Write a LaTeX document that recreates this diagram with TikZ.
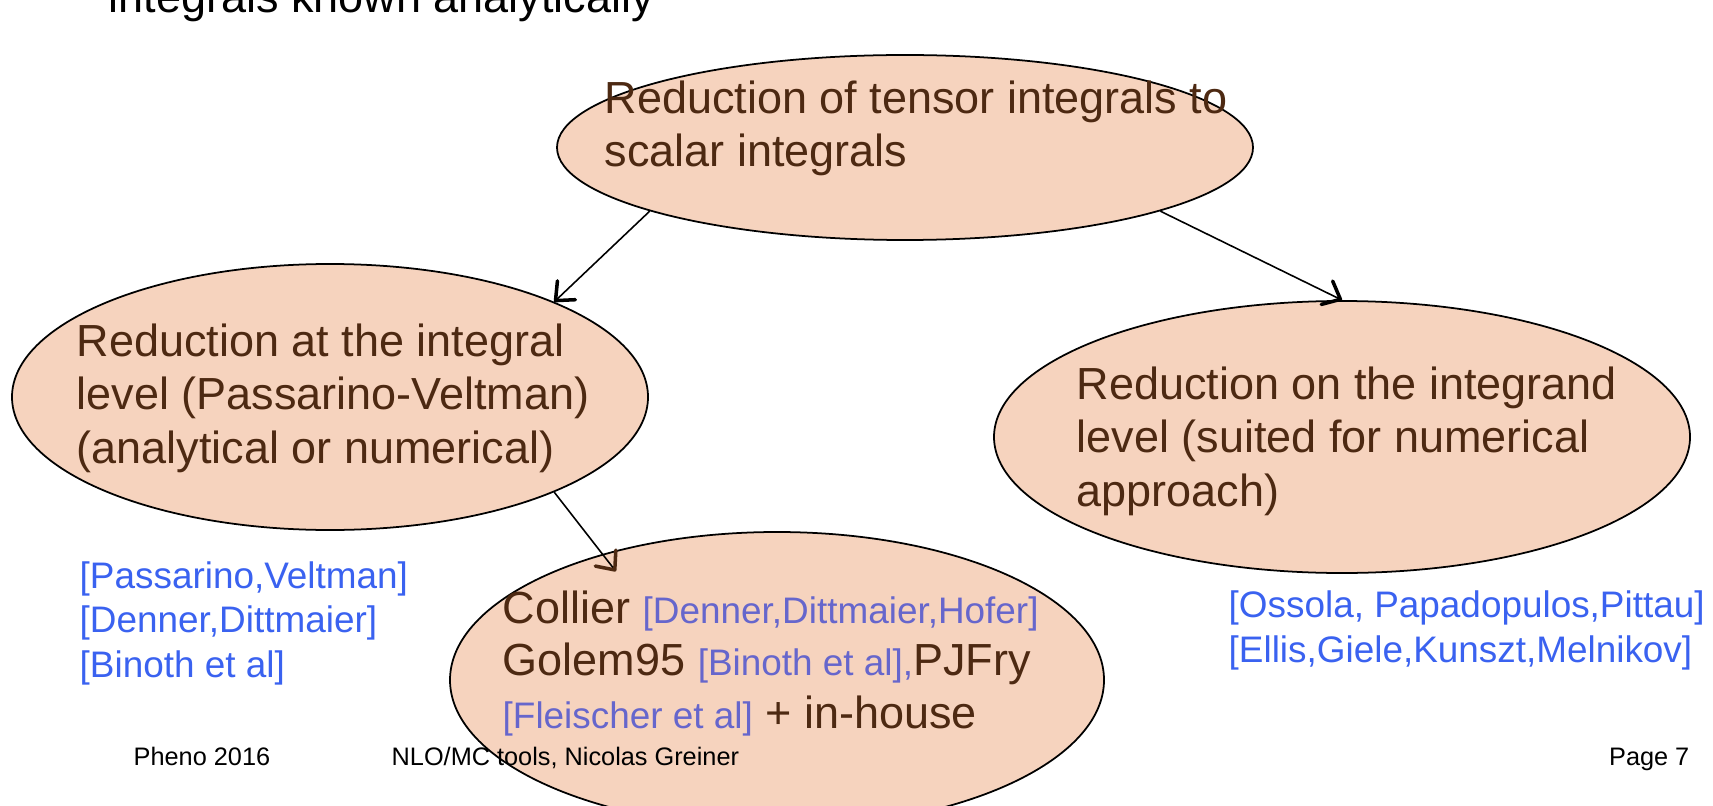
\documentclass[tikz,border=0pt]{standalone}
\usepackage{fontspec}
\setmainfont{Liberation Sans}
\usepackage{tikz}
\usetikzlibrary{arrows.meta,positioning,shapes.geometric,calc}
\definecolor{bubblefill}{RGB}{246,211,190}
\definecolor{textbrown}{RGB}{77,41,18}
\definecolor{citeblue}{RGB}{58,98,240}
\definecolor{citelilac}{RGB}{102,102,204}
\newcommand{\inref}[1]{{\color{citelilac}\fontsize{10.5}{14.8}\selectfont #1}}

\begin{document}
\begin{tikzpicture}[
  bubble/.style={ellipse, draw=black, line width=0.5pt, fill=bubblefill, inner sep=0pt},
  txt/.style={anchor=base west, inner sep=0pt, align=left, text=textbrown,
    font=\fontsize{12.8}{15.1}\selectfont},
  cite/.style={anchor=base west, inner sep=0pt, align=left, text=citeblue,
    font=\fontsize{10.5}{12.6}\selectfont},
  foot/.style={inner sep=0pt, font=\fontsize{7.2}{8}\selectfont},
  arr/.style={-{Straight Barb[length=1.5mm, width=2.6mm, line width=1pt, round]}, line width=0.45pt}
]
  \useasboundingbox (0,0) rectangle (17.13,8.05);
  \clip (0,0) rectangle (17.13,8.05);

  % Heading line, cut by the top edge
  \node[txt, text=black] (heading) at (1.08,7.92) {integrals known analytically};

  % Ellipses
  \node[bubble, minimum width=6.96cm, minimum height=1.85cm] (tensor) at (9.05,6.575) {};
  \node[bubble, minimum width=6.36cm, minimum height=2.66cm] (integral) at (3.30,4.08) {};
  \node[bubble, minimum width=6.96cm, minimum height=2.72cm] (integrand) at (13.42,3.68) {};
  \node[bubble, minimum width=6.54cm, minimum height=2.96cm] (libs) at (7.77,1.25) {};

  % Texts in the ellipses (placed at the baseline of the last line)
  \node[txt] (tensortxt) at (6.04,6.38) {Reduction of tensor integrals to\\scalar integrals};
  \node[txt] (integraltxt) at (0.76,3.42) {Reduction at the integral\\level (Passarino-Veltman)\\(analytical or numerical)};
  \node[txt] (integrandtxt) at (10.76,2.99) {Reduction on the integrand\\level (suited for numerical\\approach)};
  \node[txt, font=\fontsize{12.8}{14.8}\selectfont] (libstxt) at (5.02,0.77)
    {Collier \inref{[Denner,Dittmaier,Hofer]}\\
     Golem95 \inref{[Binoth et al],}PJFry\\
     \inref{[Fleischer et al]} + in-house};

  % References
  \node[cite] (intrefs) at (0.79,1.28) {{[Passarino,Veltman]}\\{[Denner,Dittmaier]}\\{[Binoth et al]}};
  \node[cite] (ondrefs) at (12.28,1.43) {{[Ossola, Papadopulos,Pittau]}\\{[Ellis,Giele,Kunszt,Melnikov]}};

  % Arrows
  \coordinate (libstip) at ($(libs.center)!0.88!(libs.146)$);
  \draw[arr] (tensor.194) -- (integral.23);
  \draw[arr] (tensor.346) -- (integrand.north);
  \draw[arr, -{Straight Barb[length=1.5mm, width=2.6mm, line width=1pt, round, color=textbrown]}]
    (integral.337) -- (libstip);

  % Footer
  \node[foot, anchor=base west] (conf) at (1.33,0.40) {Pheno 2016};
  \node[foot, anchor=base west] (talk) at (3.91,0.40) {NLO/MC tools, Nicolas Greiner};
  \node[foot, anchor=base east] (page) at (16.90,0.40) {Page 7};
\end{tikzpicture}
\end{document}
